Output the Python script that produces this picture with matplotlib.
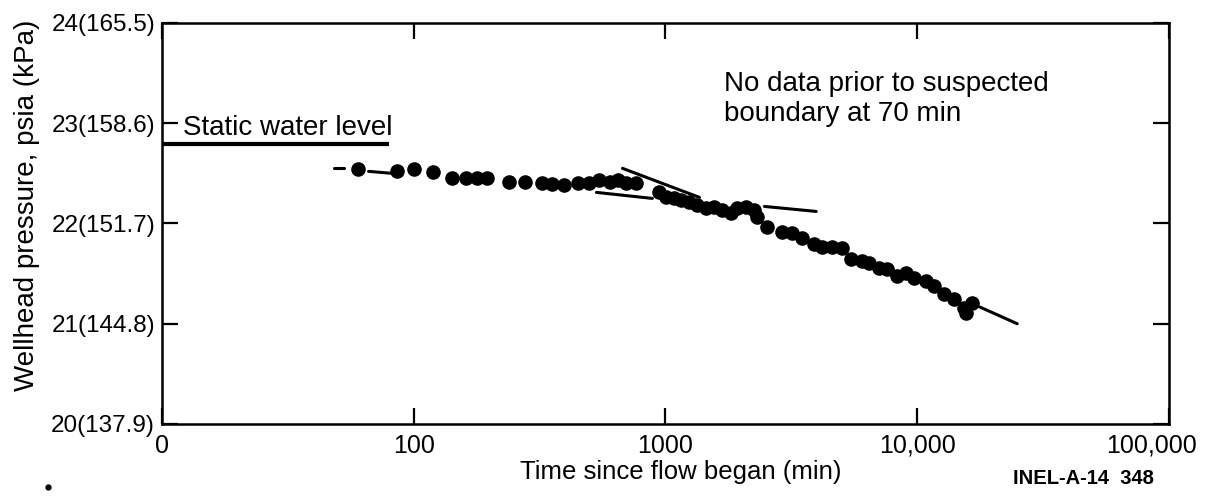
import matplotlib
matplotlib.use('Agg')
import matplotlib.pyplot as plt
import matplotlib.ticker as mtick
from matplotlib.transforms import ScaledTranslation

plt.rcParams['font.family'] = ['Liberation Sans', 'DejaVu Sans']

# readings
t_min = [60, 86, 100, 119, 142, 162, 179, 195, 240, 276, 322, 353, 397, 448, 499,
         547, 600, 645, 700, 767, 946, 1009, 1086, 1157, 1245, 1340, 1455, 1565, 1683, 1828,
         1931, 2095, 2254, 2317, 2540, 2913, 3192, 3499, 3903, 4199, 4603, 5039, 5470, 6051, 6450,
         7070, 7600, 8330, 9040, 9730, 10860, 11670, 12790, 14020, 15370, 15640, 16520]
p_psia = [22.54, 22.52, 22.54, 22.51, 22.45, 22.45, 22.45, 22.45, 22.41, 22.41, 22.40, 22.39, 22.38, 22.40, 22.40,
          22.43, 22.41, 22.43, 22.40, 22.40, 22.31, 22.26, 22.25, 22.23, 22.21, 22.18, 22.15, 22.16, 22.13, 22.10,
          22.15, 22.16, 22.13, 22.06, 21.96, 21.91, 21.90, 21.86, 21.80, 21.77, 21.77, 21.76, 21.65, 21.63, 21.61,
          21.56, 21.55, 21.48, 21.51, 21.46, 21.43, 21.38, 21.30, 21.25, 21.16, 21.11, 21.21]

# straight line fits (drawn as short pieces)
seg_t = [(48.2, 52.7), (66.2, 81.9), (675, 1365), (532, 887), (2472, 3972), (17620, 24950)]
seg_p = [(22.55, 22.55), (22.52, 22.50), (22.55, 22.26), (22.31, 22.25), (22.17, 22.12), (21.17, 21.00)]

static_t = [10, 79.6]
static_p = [22.79, 22.79]

xticks = [10, 100, 1000, 10000, 100000]
xticklabels = ['0', '100', '1000', '10,000', '100,000']
yticks = [20, 21, 22, 23, 24]
yticklabels = ['20(137.9)', '21(144.8)', '22(151.7)', '23(158.6)', '24(165.5)']

fig = plt.figure(figsize=(12.05, 4.96), dpi=100)
ax = fig.add_axes([0.1344, 0.1452, 0.8357, 0.8085])

ax.plot(static_t, static_p, color='black', linewidth=3.0, solid_capstyle='butt')
for ts, ps in zip(seg_t, seg_p):
    ax.plot(ts, ps, color='black', linewidth=2.2, solid_capstyle='round')
ax.plot(t_min, p_psia, 'o', color='black', markersize=10.5, markeredgewidth=0)

ax.set_xscale('log')
ax.set_xlim(10, 100000)
ax.set_ylim(20, 24)
ax.set_xticks(xticks)
ax.set_xticklabels(xticklabels)
ax.xaxis.set_minor_locator(mtick.NullLocator())
ax.set_yticks(yticks)
ax.set_yticklabels(yticklabels)

ax.tick_params(axis='both', direction='in', length=11.5, width=1.6, top=True, right=True)
ax.tick_params(axis='x', labelsize=18, pad=7)
ax.tick_params(axis='y', labelsize=17.5, pad=5)
for s in ax.spines.values():
    s.set_linewidth(1.8)

# last label is pulled in from the page edge
lab = ax.get_xticklabels()[-1]
lab.set_transform(lab.get_transform() + ScaledTranslation(-0.17, 0, fig.dpi_scale_trans))

ax.text(12.1, 22.88, 'Static water level', fontsize=20, ha='left', va='baseline')
ax.text(1714, 23.02, 'No data prior to suspected\nboundary at 70 min', fontsize=20,
        ha='left', va='baseline', linespacing=1.2)

fig.text(27/1205, 1 - 205/496, 'Wellhead pressure, psia (kPa)', rotation=90,
         fontsize=20, ha='center', va='center')
fig.text(681/1205, 1 - 472/496, 'Time since flow began (min)', fontsize=18.5,
         ha='center', va='center')
fig.text(1083/1205, 1 - 479/496, 'INEL-A-14  348', fontsize=14.5, fontweight='bold',
         ha='center', va='center')

# stray speck on the scan, bottom left
ax.plot([48/1205], [1 - 487/496], 'o', color='black', markersize=3.5,
        transform=fig.transFigure, clip_on=False)

fig.savefig('out.png', dpi=100)
